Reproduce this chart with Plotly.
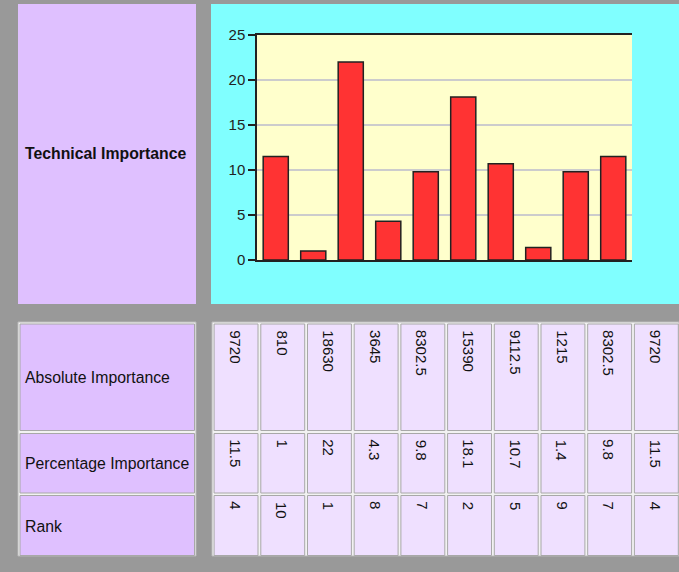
import plotly.graph_objects as go

# ---------------- data ----------------
columns = ["1", "2", "3", "4", "5", "6", "7", "8", "9", "10"]
absolute_importance = [9720, 810, 18630, 3645, 8302.5, 15390, 9112.5, 1215, 8302.5, 9720]
percentage_importance = [11.5, 1, 22, 4.3, 9.8, 18.1, 10.7, 1.4, 9.8, 11.5]
rank = [4, 10, 1, 8, 7, 2, 5, 9, 7, 4]
row_labels = ["Absolute Importance", "Percentage Importance", "Rank"]
chart_label = "Technical Importance"
y_ticks = [0, 5, 10, 15, 20, 25]

# ---------------- layout constants ----------------
W, H = 679, 572
FONT = "Liberation Sans, Arial, Helvetica, sans-serif"
GRAY = "#999999"
PURPLE = "#DFC0FF"
LIGHT = "#EFE0FF"
CYAN = "#80FFFF"
YELLOW = "#FFFFCC"


def px(x):
    return x / W


def py(y):
    return 1 - y / H


TABLE_TOP, TABLE_BOTTOM = 322, 556
row_spans = [(1, 108.5), (110.5, 171), (172.5, 233.5)]
text_offset = 5

fig = go.Figure()

fig.add_trace(go.Bar(
    x=columns, y=percentage_importance,
    marker=dict(color="#FF3333", line=dict(color="#222222", width=1.5)),
    xaxis="x", yaxis="y", hoverinfo="skip",
))

shapes = []
shapes.append(dict(type="rect", xref="paper", yref="paper", layer="below",
                   x0=px(18), x1=px(196), y0=py(304), y1=py(4),
                   fillcolor=PURPLE, line=dict(width=0)))
shapes.append(dict(type="rect", xref="paper", yref="paper", layer="below",
                   x0=px(211), x1=px(679), y0=py(304), y1=py(4),
                   fillcolor=CYAN, line=dict(width=0)))
shapes.append(dict(type="rect", xref="paper", yref="paper", layer="below",
                   x0=px(257), x1=px(632), y0=py(260), y1=py(35),
                   fillcolor=YELLOW, line=dict(width=0)))
for (a, b) in [(18, 196), (212, 679)]:
    shapes.append(dict(type="rect", xref="paper", yref="paper", layer="below",
                       x0=px(a), x1=px(b), y0=py(TABLE_BOTTOM), y1=py(TABLE_TOP),
                       fillcolor="#F2F2F2", line=dict(color="#B8B8B8", width=1)))
for (r0, r1) in row_spans:
    shapes.append(dict(type="rect", xref="paper", yref="y2", layer="below",
                       x0=px(20), x1=px(194.5), y0=r0 + 1, y1=r1,
                       fillcolor=PURPLE, line=dict(color="#A8A8A8", width=1)))
for i in range(len(columns)):
    for (r0, r1) in row_spans:
        shapes.append(dict(type="rect", xref="x2", yref="y2", layer="below",
                           x0=i - 0.5 + 0.045, x1=i + 0.5 - 0.015, y0=r0 + 1, y1=r1,
                           fillcolor=LIGHT, line=dict(color="#A8A8A8", width=1)))

annotations = []
annotations.append(dict(xref="paper", yref="paper", x=px(23), y=py(154),
                        xanchor="left", yanchor="middle", showarrow=False,
                        text="<b>%s</b>" % chart_label,
                        font=dict(family=FONT, size=15.8, color="#111111")))
for lab, (r0, r1) in zip(row_labels, row_spans):
    annotations.append(dict(xref="paper", yref="y2", x=px(23), y=(r0 + r1) / 2 + 1,
                            xanchor="left", yanchor="middle", showarrow=False,
                            text=lab, font=dict(family=FONT, size=15.8, color="#111111")))
for series, (r0, r1) in zip([absolute_importance, percentage_importance, rank], row_spans):
    for i, v in enumerate(series):
        annotations.append(dict(xref="x2", yref="y2", x=i, y=r0 + text_offset,
                                xanchor="center", yanchor="top", showarrow=False,
                                textangle=90, text=f"{v:g}",
                                font=dict(family=FONT, size=15, color="#111111")))

fig.update_layout(
    width=W, height=H, autosize=False,
    margin=dict(l=0, r=0, t=0, b=0, pad=0, autoexpand=False),
    paper_bgcolor=GRAY, plot_bgcolor="rgba(0,0,0,0)",
    showlegend=False, bargap=0.33,
    font=dict(family=FONT, size=15, color="#222222"),
    xaxis=dict(domain=[px(257), px(632)], showline=True, linecolor="#222222", linewidth=1.5,
               mirror=True, showticklabels=False, ticks="", showgrid=False, zeroline=False,
               fixedrange=True, automargin=False),
    yaxis=dict(domain=[py(260), py(35)], range=[0, 25], tickvals=y_ticks,
               showline=True, linecolor="#222222", linewidth=1.5,
               ticks="outside", ticklen=7, tickcolor="#222222", tickwidth=1.5,
               showgrid=True, gridcolor="#CCCCCC", gridwidth=1.5, zeroline=False,
               tickfont=dict(family=FONT, size=15, color="#222222"), fixedrange=True,
               automargin=False),
    xaxis2=dict(domain=[px(212), px(679)], range=[-0.5, len(columns) - 0.5], visible=False,
                anchor="y2", fixedrange=True),
    yaxis2=dict(domain=[py(TABLE_BOTTOM), py(TABLE_TOP)],
                range=[TABLE_BOTTOM - TABLE_TOP, 0], visible=False, anchor="x2", fixedrange=True),
    shapes=shapes, annotations=annotations,
)

fig.write_html("out.html", config={"displayModeBar": False},
               post_script="document.body.style.margin='0';document.body.style.overflow='hidden';")
